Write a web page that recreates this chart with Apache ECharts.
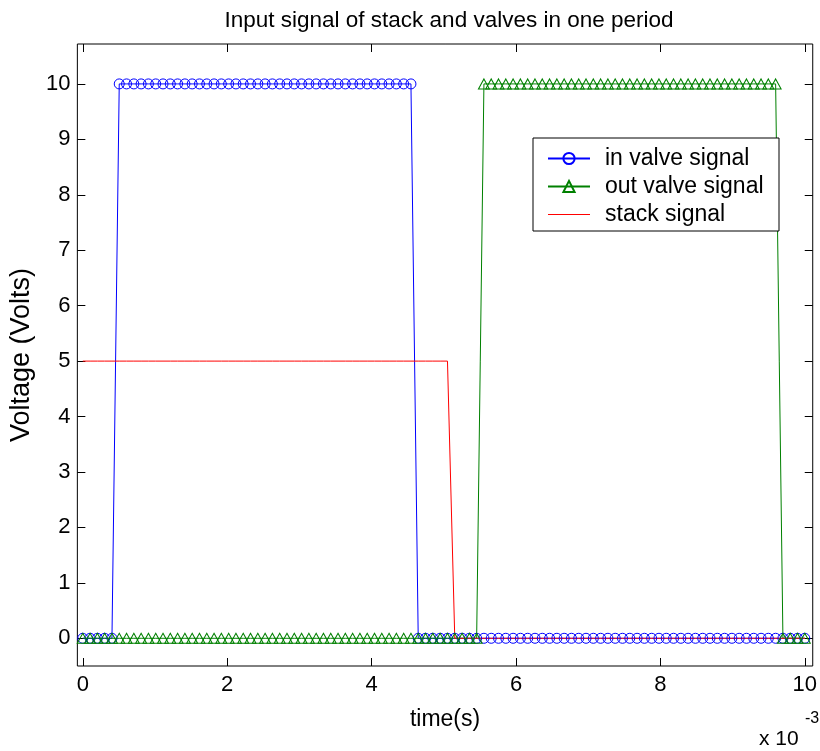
<!DOCTYPE html>
<html>
<head>
<meta charset="utf-8">
<script src="https://cdn.jsdelivr.net/npm/echarts@6/dist/echarts.min.js"></script>
<style>html,body{margin:0;padding:0;background:#fff;}#c{width:820px;height:751px;}</style>
</head>
<body>
<div id="c"></div>
<script>
// time axis values (x 10^-3 s)
var time = [0,0.101,0.202,0.303,0.404,0.505,0.606,0.707,0.808,0.909,
1.010,1.111,1.212,1.313,1.414,1.515,1.616,1.717,1.818,1.919,
2.020,2.121,2.222,2.323,2.424,2.525,2.626,2.727,2.828,2.929,
3.030,3.131,3.232,3.333,3.434,3.535,3.636,3.737,3.838,3.939,
4.040,4.141,4.242,4.343,4.444,4.545,4.646,4.747,4.848,4.949,
5.051,5.152,5.253,5.354,5.455,5.556,5.657,5.758,5.859,5.960,
6.061,6.162,6.263,6.364,6.465,6.566,6.667,6.768,6.869,6.970,
7.071,7.172,7.273,7.374,7.475,7.576,7.677,7.778,7.879,7.980,
8.081,8.182,8.283,8.384,8.485,8.586,8.687,8.788,8.889,8.990,
9.091,9.192,9.293,9.394,9.495,9.596,9.697,9.798,9.899,10.000];
var inValve = [0,0,0,0,0,10,10,10,10,10,
10,10,10,10,10,10,10,10,10,10,
10,10,10,10,10,10,10,10,10,10,
10,10,10,10,10,10,10,10,10,10,
10,10,10,10,10,10,0,0,0,0,
0,0,0,0,0,0,0,0,0,0,
0,0,0,0,0,0,0,0,0,0,
0,0,0,0,0,0,0,0,0,0,
0,0,0,0,0,0,0,0,0,0,
0,0,0,0,0,0,0,0,0,0];
var outValve = [0,0,0,0,0,0,0,0,0,0,
0,0,0,0,0,0,0,0,0,0,
0,0,0,0,0,0,0,0,0,0,
0,0,0,0,0,0,0,0,0,0,
0,0,0,0,0,0,0,0,0,0,
0,0,0,0,0,10,10,10,10,10,
10,10,10,10,10,10,10,10,10,10,
10,10,10,10,10,10,10,10,10,10,
10,10,10,10,10,10,10,10,10,10,
10,10,10,10,10,10,0,0,0,0];
var stack = [5,5,5,5,5,5,5,5,5,5,
5,5,5,5,5,5,5,5,5,5,
5,5,5,5,5,5,5,5,5,5,
5,5,5,5,5,5,5,5,5,5,
5,5,5,5,5,5,5,5,5,5,
5,0,0,0,0,0,0,0,0,0,
0,0,0,0,0,0,0,0,0,0,
0,0,0,0,0,0,0,0,0,0,
0,0,0,0,0,0,0,0,0,0,
0,0,0,0,0,0,0,0,0,0];
var xTicks = [0,2,4,6,8,10];
var yTicks = [0,1,2,3,4,5,6,7,8,9,10];
var seriesNames = ['in valve signal','out valve signal','stack signal'];

function pairs(vals){ return time.map(function(t,i){ return [t, vals[i]]; }); }

var FONT = 'Liberation Sans, Arial, sans-serif';
var chart = echarts.init(document.getElementById('c'), null, {renderer:'canvas'});
var tickStyle = {show:true, inside:true, length:8, lineStyle:{color:'#000', width:1}};
var noLine = {show:false, onZero:false};
chart.setOption({
  animation:false,
  backgroundColor:'#fff',
  title:{text:'Input signal of stack and valves in one period', left:444, top:4, textAlign:'center',
    textStyle:{fontFamily:FONT, fontSize:22.5, fontWeight:'normal', color:'#000'}},
  grid:{left:74, right:6, top:44, bottom:85, show:true, borderColor:'#000', borderWidth:1, backgroundColor:'#fff'},
  xAxis:[{type:'value', min:-0.075, max:10.11, position:'bottom',
      axisLine:noLine, splitLine:{show:false},
      axisTick:Object.assign({customValues:xTicks}, tickStyle),
      axisLabel:{customValues:xTicks, fontFamily:FONT, fontSize:22, color:'#000', margin:8},
      name:'time(s)', nameLocation:'middle', nameGap:42,
      nameTextStyle:{fontFamily:FONT, fontSize:23, color:'#000'}},
    {type:'value', min:-0.075, max:10.11, position:'top',
      axisLine:noLine, splitLine:{show:false},
      axisTick:Object.assign({customValues:xTicks}, tickStyle),
      axisLabel:{show:false}}],
  yAxis:[{type:'value', min:-0.5, max:10.72, position:'left',
      axisLine:noLine, splitLine:{show:false},
      axisTick:Object.assign({customValues:yTicks}, tickStyle),
      axisLabel:{customValues:yTicks, fontFamily:FONT, fontSize:22, color:'#000', margin:7},
      name:'Voltage (Volts)', nameLocation:'middle', nameGap:37,
      nameTextStyle:{fontFamily:FONT, fontSize:27, color:'#000'}},
    {type:'value', min:-0.5, max:10.72, position:'right',
      axisLine:noLine, splitLine:{show:false},
      axisTick:Object.assign({customValues:yTicks}, tickStyle),
      axisLabel:{show:false}}],
  legend:{orient:'vertical', left:547, top:147, itemWidth:42, itemHeight:14, itemGap:5, z:6,
    padding:0, textStyle:{fontFamily:FONT, fontSize:23, color:'#000', padding:[0,0,0,10]},
    data:[{name:seriesNames[0]},{name:seriesNames[1]},
      {name:seriesNames[2], icon:'path://M0 0H42V1H0Z', itemStyle:{color:'#ff0000'}}]},
  graphic:[
    {type:'rect', shape:{x:533, y:138, width:246, height:93}, style:{fill:'#fff', stroke:'#000', lineWidth:1}, z:5},
    {type:'text', left:759, top:729, style:{text:'x 10', fontFamily:FONT, fontSize:21, fill:'#000'}, z:5},
    {type:'text', left:805, top:711, style:{text:'-3', fontFamily:FONT, fontSize:16, fill:'#000'}, z:5}
  ],
  series:[
    {name:seriesNames[0], type:'line', data:pairs(inValve), symbol:'circle', symbolSize:10,
      itemStyle:{color:'rgba(0,0,0,0)', borderColor:'#0000ff', borderWidth:1},
      lineStyle:{color:'#0000ff', width:1}, clip:false},
    {name:seriesNames[1], type:'line', data:pairs(outValve), symbol:'triangle', symbolSize:[11,10],
      itemStyle:{color:'rgba(0,0,0,0)', borderColor:'#008000', borderWidth:1},
      lineStyle:{color:'#008000', width:1}, clip:false},
    {name:seriesNames[2], type:'line', data:pairs(stack), symbol:'none',
      itemStyle:{color:'#ff0000'}, lineStyle:{color:'#ff0000', width:1}, clip:false}
  ]
});
</script>
</body>
</html>
